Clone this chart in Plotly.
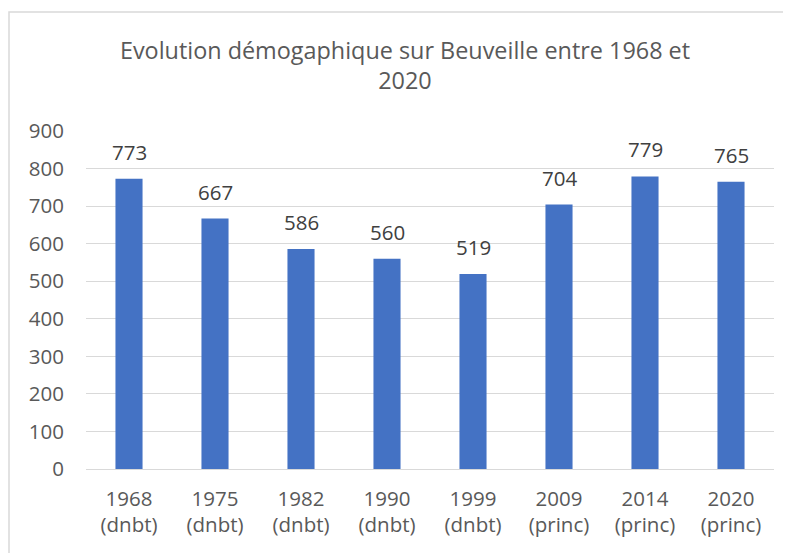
import plotly.graph_objects as go

categories = ["1968<br>(dnbt)", "1975<br>(dnbt)", "1982<br>(dnbt)", "1990<br>(dnbt)",
              "1999<br>(dnbt)", "2009<br>(princ)", "2014<br>(princ)", "2020<br>(princ)"]
population = [773, 667, 586, 560, 519, 704, 779, 765]
y_ticks = [0, 100, 200, 300, 400, 500, 600, 700, 800, 900]

# page body has an 8px margin: lay out in figure coordinates (screen - 8)
OFF = 8
W, H = 791, 553
ml, mt = 86 - OFF, 131 - OFF
mr = W - (774 - OFF)
mb = H - (469 - OFF)
FONT = "Open Sans, Calibri, sans-serif"

fig = go.Figure(go.Bar(
    x=categories, y=population,
    marker=dict(color="#4472C4", line=dict(width=0)),
    hoverinfo="x+y",
))

for c, v in zip(categories, population):
    fig.add_annotation(x=c, y=v, text=str(v), showarrow=False, yanchor="middle",
                       yshift=27, font=dict(family=FONT, size=20.5, color="#404040"))

pw = W - ml - mr
ph = H - mt - mb
fig.add_shape(type="rect", xref="paper", yref="paper",
              x0=(9 - OFF - ml) / pw, x1=(W + 20 - ml) / pw,
              y0=-(H + 20 - mt - ph) / ph, y1=(H - (12 - OFF) - mb) / ph,
              line=dict(color="#D9D9D9", width=1.5), fillcolor="rgba(0,0,0,0)", layer="below")

fig.update_layout(
    width=W, height=H,
    margin=dict(l=ml, r=mr, t=mt, b=mb, autoexpand=False),
    paper_bgcolor="white", plot_bgcolor="white",
    bargap=0.685,
    showlegend=False,
    title=dict(text="Evolution démogaphique sur Beuveille entre 1968 et<br>2020",
               x=(405 - OFF) / W, xanchor="center", y=1 - (59 - OFF) / H, yanchor="middle",
               font=dict(family=FONT, size=23.4, color="#595959")),
    font=dict(family=FONT, size=20.5, color="#595959"),
    xaxis=dict(showgrid=False, showline=True, linecolor="#D9D9D9", linewidth=1,
               ticks="", automargin=False, ticklabelstandoff=11,
               tickfont=dict(size=20.5, color="#595959")),
    yaxis=dict(range=[0, 900], tickvals=y_ticks, showgrid=True, gridcolor="#D9D9D9",
               gridwidth=1, zeroline=False, ticks="", ticklabelstandoff=21,
               automargin=False, tickfont=dict(size=20.5, color="#595959")),
)

fig.write_html("out.html")
